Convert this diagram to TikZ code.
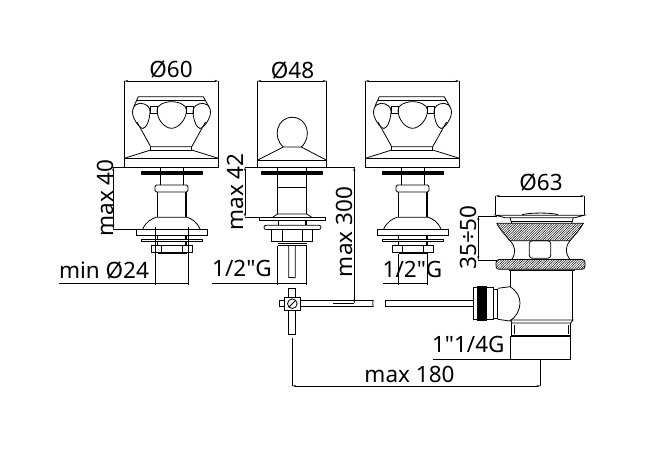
\documentclass[tikz,border=0pt]{standalone}
\usepackage{fontspec}
\newfontfamily\dimfont{Noto Sans}
\usetikzlibrary{arrows.meta,patterns.meta}
\tikzset{
  part/.style={line width=0.8pt,black},
  heavy/.style={line width=1.4pt,black},
  dimline/.style={line width=0.55pt,black},
  dimarrow/.style={line width=0.55pt,black,{Stealth[length=4pt,width=2pt]}-{Stealth[length=4pt,width=2pt]}},
  dimtext/.style={font=\dimfont\fontsize{22.5}{22.5}\selectfont,inner sep=0pt,anchor=base,text=black},
  hatched/.style={part,pattern={Lines[angle=45,distance=1.7pt,line width=0.45pt]}}
}
\begin{document}
\begin{tikzpicture}[x=1pt,y=-1pt]
\useasboundingbox (0,0) rectangle (661,456);
\fill[white] (0,0) rectangle (661,456);

% Cross handle valves
\foreach \dx in {0,241} {
\begin{scope}[xshift=\dx pt]
\draw[dimline] (124.3,81) -- (124.3,167);
\draw[dimline] (218.3,81) -- (218.3,167);
\draw[dimarrow] (124.3,81) -- (218.3,81);
% Handle
\draw[part] (134,106) -- (138.3,96.7) -- (203.3,96.7) -- (208.5,106);
\draw[part] (137,100) -- (206,100);
\draw[part,fill=white] (132.7,110) .. controls (134,105) and (137,103.3) .. (140,103.3) .. controls (146,103.3) and (150,107) .. (150,111) .. controls (150,118) and (147,128) .. (143,128.5) .. controls (139,128) and (131,117) .. (132.7,110);
\draw[part,fill=white] (210.3,110) .. controls (209,105) and (206,103.3) .. (203,103.3) .. controls (197,103.3) and (193,107) .. (193,111) .. controls (193,118) and (196,128) .. (200,128.5) .. controls (204,128) and (212,117) .. (210.3,110);
\draw[part,fill=white] (157,110) .. controls (157,105) and (164,101.7) .. (171.5,101.7) .. controls (179,101.7) and (186.5,105) .. (186.5,110) .. controls (186.5,120) and (178,128.3) .. (171.5,128.3) .. controls (165,128.3) and (157,120) .. (157,110);
\draw[part] (150,106.7) rectangle (157,113.3);
\draw[part] (186.5,106.7) rectangle (193,113.3);
\draw[part] (137,122) -- (150.7,146.7) -- (191.7,146.7) -- (205.5,122);
\draw[part] (150.7,146.7) -- (150.7,150) -- (191.7,150) -- (191.7,146.7);
\draw[part] (124.3,158.3) -- (150.7,150);
\draw[part] (191.7,150) -- (218.3,158.3);
\draw[part] (124.3,158.3) rectangle (218.3,167);
% Stem
\fill[black] (140.7,171) rectangle (202.7,175);
\draw[part] (160.7,167) -- (160.7,185);
\draw[part] (183.3,167) -- (183.3,185);
\draw[part,rounded corners=1.5pt] (155,185) rectangle (188,192);
\draw[heavy] (157.5,192) -- (157.5,217);
\draw[heavy] (186,192) -- (186,217);
\draw[part] (142.7,229) .. controls (146,222) and (151,219) .. (156,217.3) -- (187.3,217.3) .. controls (192,219) and (197,222) .. (200,229);
\draw[part] (136.3,229.3) rectangle (207.3,235.7);
\draw[part] (141.3,239.3) rectangle (202.7,241.7);
\draw[heavy] (157.7,235.7) -- (157.7,239.3);
\draw[heavy] (186,235.7) -- (186,239.3);
\draw[heavy] (157.7,241.7) -- (157.7,245.3);
\draw[heavy] (186,241.7) -- (186,245.3);
\draw[part] (151.3,245.3) rectangle (192.3,252.7);
\draw[part] (161,245.3) -- (161,252.7);
\draw[part] (182.3,245.3) -- (182.3,252.7);
\draw[heavy] (157.5,253.7) -- (186.5,253.7);
\end{scope}
}

% Centre valve
\draw[dimline] (257.3,81) -- (257.3,167);
\draw[dimline] (326.7,81) -- (326.7,167);
\draw[dimarrow] (257.3,81) -- (326.7,81);
\draw[part] (283.3,147) .. controls (272,137) and (277,117.3) .. (292.3,117.3) .. controls (307.5,117.3) and (312.5,137) .. (301.3,147) -- (283.3,147);
\draw[part] (257.3,160.3) -- (283.3,147);
\draw[part] (301.3,147) -- (326.7,160.3);
\draw[part] (257.3,160.3) rectangle (326.7,167);
\fill[black] (261,171) rectangle (323.3,175);
\draw[part] (277.7,167) -- (277.7,187.3);
\draw[part] (306.7,167) -- (306.7,187.3);
\draw[part] (277.7,187.3) -- (306.7,187.3);
\draw[heavy] (277.7,187.3) -- (277.7,214);
\draw[heavy] (306.7,187.3) -- (306.7,214);
\draw[part] (273,217) -- (277.7,214) -- (306.7,214) -- (311.5,217);
\draw[part] (259.3,217) rectangle (325.7,220.3);
\draw[heavy] (278.5,220.3) -- (278.5,225.3);
\draw[heavy] (305.8,220.3) -- (305.8,225.3);
\draw[part,rounded corners=2pt] (264,225.3) -- (321,225.3) -- (321,229.5) -- (264,229.5) -- cycle;
\draw[part] (271.3,229.5) rectangle (312.7,241.7);
\draw[part] (282.3,229.5) -- (282.3,241.7);
\draw[part] (302,229.5) -- (302,241.7);
\draw[heavy] (277.7,243.5) -- (306.7,243.5);
\draw[part] (277.7,245.5) -- (306.7,245.5);
\draw[part] (288.7,246) -- (288.7,277.5) -- (295.3,277.7) -- (295.3,246);

% Mixing lever
\draw[part] (295.3,288.3) -- (288.7,288.3) -- (288.7,297);
\draw[part] (295.3,288.3) -- (295.3,297);
\draw[part] (279.3,300.7) rectangle (284.7,306.7);
\draw[part] (284.7,297) rectangle (300,310.3);
\draw[part] (292.3,303.7) circle (4.8);
\draw[part] (289,307) -- (295.6,300.4);
\draw[part] (288.7,310.3) rectangle (295.3,334.3);
\draw[part] (300,300.5) -- (373.3,300.5);
\draw[part] (300,306.7) -- (373.3,306.7);
\draw[part] (373.3,300) -- (372.7,303.5) -- (373.3,307);
\draw[dimline] (333.3,303.3) -- (354.3,303.3);

% Overall dimension lines
\coordinate (leverfoot) at (292.3,338.3);
\coordinate (leverend) at (292.3,386);
\coordinate (wastefoot) at (540.5,386);
\coordinate (wastetop) at (540.5,360);
\draw[dimline] (leverfoot) -- (leverend);
\draw[dimline] (wastetop) -- (wastefoot);
\draw[dimarrow] (leverend) -- (wastefoot);

% Pop-up waste
\draw[part] (385,300.5) -- (473,300.5);
\draw[part] (385,306.2) -- (473,306.2);
\draw[part] (385,300.5) -- (385,306.2);
\draw[part] (473,287.7) rectangle (477.3,319.3);
\fill[black] (477.3,286) rectangle (486.7,320.7);
\draw[part] (486.7,287.7) rectangle (493.3,319.3);
\draw[part] (493.3,289) rectangle (497.7,318);
\draw[part] (497.7,288.3) -- (510,286.7);
\draw[part] (497.7,319.3) -- (510,321);
\draw[part] (510,286.7) .. controls (517,291) and (520,297) .. (520,303) .. controls (520,310) and (516,317) .. (510,321);
\draw[part] (510.5,270) -- (510.5,286.7);
\draw[part] (572.8,270) -- (572.8,320);
\draw[part] (509,270.5) -- (574.5,270.5);
\draw[part] (510.7,320) -- (573,320) -- (570.7,323) -- (512,323) -- cycle;
\draw[part] (511,323) -- (511,336) -- (570.7,336) -- (570.7,323);
\draw[heavy] (511,336) -- (570.7,336);
\draw[dimline] (514.3,325) -- (514.3,333.5);
\draw[dimline] (568.3,325) -- (568.3,333.5);
\draw[hatched,rounded corners=3pt] (496,259.5) -- (585,259.5) -- (585,269.3) -- (496,269.3) -- cycle;
\draw[hatched] (496.7,223.3) -- (583.3,223.3) .. controls (579,231) and (574,236) .. (570,240.7) -- (510,240.7) .. controls (506,236) and (501,231) .. (496.7,223.3);
\draw[part] (510,240.7) .. controls (516,247) and (516,253) .. (511.7,259.5);
\draw[part] (570,240.7) .. controls (565,247) and (565,253) .. (570,259.5);
\draw[part,rounded corners=3pt] (529.3,240.7) rectangle (550.7,258.3);
\draw[part] (510,217.7) -- (511.7,223.3);
\draw[part] (573.3,217.7) -- (571.7,223.3);
\draw[part] (510.5,221.7) -- (572,221.7);
\draw[part] (495.7,215.2) -- (584.3,215.2) -- (575,217.7) -- (505,217.7) -- cycle;
\draw[part] (522,214.7) .. controls (530,212.5) and (552,212.5) .. (558,214.7);
\draw[dimline] (495.7,196) -- (495.7,215);
\draw[dimline] (584.3,196) -- (584.3,215);
\draw[dimarrow] (495.7,196) -- (584.3,196);
\draw[dimline] (478.3,216) -- (497,216);
\draw[dimline] (478.3,260) -- (497,260);
\draw[dimarrow] (478.3,216) -- (478.3,260);

% Dimensions on the valves
\draw[dimline] (113.3,167) -- (124.3,167);
\draw[dimline] (113.3,229.3) -- (136.3,229.3);
\draw[dimarrow] (113.3,167) -- (113.3,229.3);
\draw[dimline] (155.3,227) -- (155.3,285);
\draw[dimline] (188.3,227) -- (188.3,285);
\draw[dimline] (59.3,283.3) -- (188.3,283.3);
\draw[dimline] (245,167) -- (355,167);
\draw[dimline] (245,217) -- (259.3,217);
\draw[dimarrow] (245,167) -- (245,217);
\draw[dimarrow] (354.3,167) -- (354.3,303.3);
\draw[dimline] (277.7,246) -- (277.7,285);
\draw[dimline] (306.7,246) -- (306.7,285);
\draw[dimline] (211.7,283.3) -- (306.7,283.3);
\draw[dimline] (398.7,254) -- (398.7,285);
\draw[dimline] (427.3,254) -- (427.3,285);
\draw[dimline] (383,283.5) -- (427.3,283.5);
\draw[dimline] (510.7,336) -- (510.7,360);
\draw[dimline] (570.7,336) -- (570.7,360);
\draw[dimline] (432.7,359.3) -- (570.7,359.3);

% Labels
\node[dimtext] (dialeft) at (171,77.3) {Ø60};
\node[dimtext] (diacentre) at (292.5,78) {Ø48};
\node[dimtext] (diawaste) at (541,190.7) {Ø63};
\node[dimtext,rotate=90] (heightleft) at (113,198) {max 40};
\node[dimtext,rotate=90] (heightcentre) at (243.3,192) {max 42};
\node[dimtext,rotate=90] (leverheight) at (352.7,232) {max 300};
\node[dimtext,rotate=90] (wasteheight) at (476.7,237.5) {35÷50};
\node[dimtext] (minthread) at (104,278) {min Ø24};
\node[dimtext] (threadcentre) at (242,276.7) {1/2"G};
\node[dimtext] (threadright) at (412.5,277) {1/2"G};
\node[dimtext] (threadwaste) at (468.3,352.7) {1"1/4G};
\node[dimtext] (reach) at (409.5,382) {max 180};
\end{tikzpicture}
\end{document}
